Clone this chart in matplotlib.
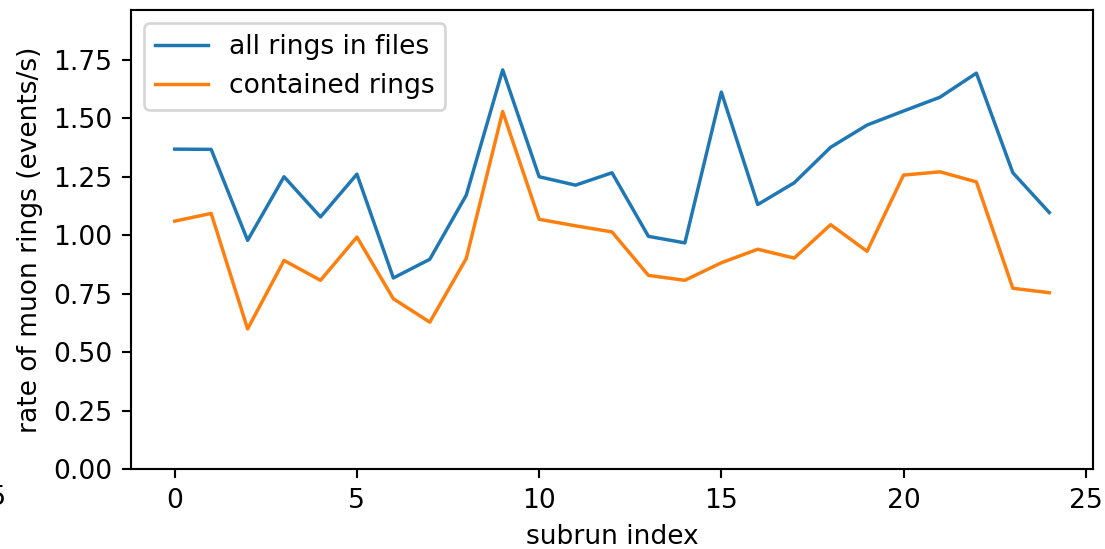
import matplotlib

matplotlib.use("Agg")
import matplotlib.pyplot as plt

# Rates per subrun.
subrun = list(range(25))
all_rings = [1.368, 1.367, 0.978, 1.250, 1.078, 1.261, 0.817, 0.897, 1.171, 1.707,
             1.250, 1.214, 1.267, 0.995, 0.967, 1.612, 1.131, 1.224, 1.376, 1.471,
             1.531, 1.590, 1.693, 1.267, 1.097]
contained = [1.060, 1.093, 0.599, 0.892, 0.807, 0.992, 0.728, 0.628, 0.900, 1.529,
             1.068, 1.040, 1.014, 0.828, 0.807, 0.882, 0.940, 0.902, 1.045, 0.931,
             1.257, 1.271, 1.228, 0.773, 0.754]

DPI = 191
fig = plt.figure(figsize=(1105 / DPI, 549 / DPI), dpi=DPI)
ax = fig.add_axes([131 / 1105, 1 - 469 / 549, (1093 - 131) / 1105, (469 - 10) / 549])

ax.plot(subrun, all_rings, label="all rings in files", lw=1.3)
ax.plot(subrun, contained, label="contained rings", lw=1.3)

ax.set_ylim(0, max(all_rings) * 1.15)
ax.set_xlabel("subrun index")
ax.set_ylabel("rate of muon rings (events/s)")
ax.legend(loc="upper left")

# stray tick label clipped at the left edge of the original image
fig.text(6 / 1105, 1 - 498 / 549, "\u22125", ha="right", va="center", fontsize=10)

fig.savefig("out.png", dpi=DPI)
